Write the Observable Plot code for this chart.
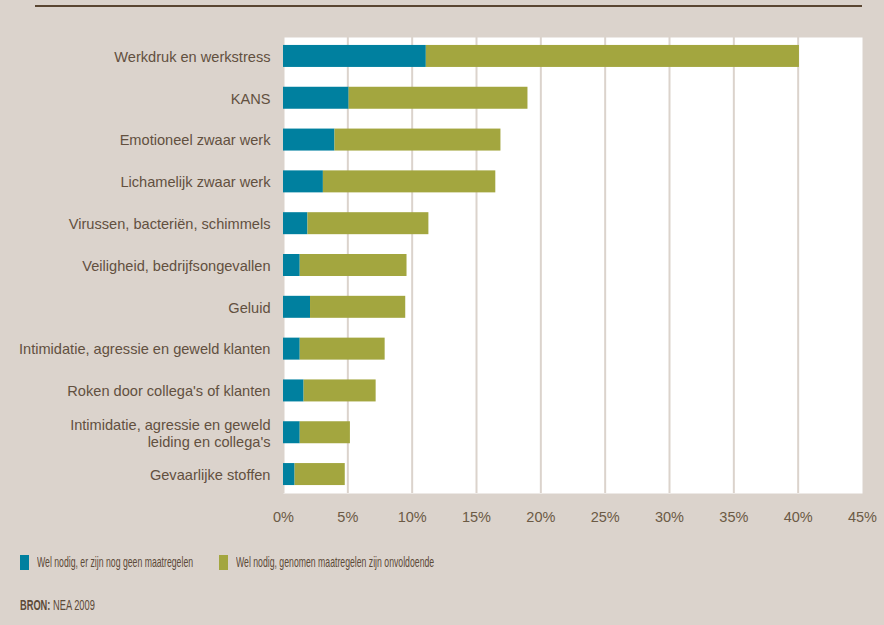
<!DOCTYPE html>
<html>
<head>
<meta charset="utf-8">
<script src="https://cdn.jsdelivr.net/npm/d3@7"></script>
<script src="https://cdn.jsdelivr.net/npm/@observablehq/plot@0.6"></script>
<style>
  html, body { margin: 0; padding: 0; background: #dbd3cc; }
  #wrap { position: relative; width: 884px; height: 625px; background: #dbd3cc; overflow: hidden;
          font-family: "Liberation Sans", Arial, sans-serif; color: #5c4a38; }
  #rule { position: absolute; left: 35px; top: 5px; width: 827px; height: 2px; background: #5a4632; }
  #chart { position: absolute; left: 0; top: 0; }
  #legend { position: absolute; left: 20px; top: 555px; font-size: 14.5px; color: #5c4a38; }
  .item { position: absolute; white-space: nowrap; top: 0; }
  .sw { position: absolute; top: 0; width: 9px; height: 15px; }
  .lab { position: absolute; top: -1px; left: 17px; line-height: 17px; display: inline-block;
         transform: scaleX(0.6); transform-origin: 0 50%; }
  #source { position: absolute; left: 20px; top: 597px; font-size: 14.5px; color: #5c4a38; white-space: nowrap;
            transform: scaleX(0.64); transform-origin: 0 50%; }
</style>
</head>
<body>
<div id="wrap">
  <div id="rule"></div>
  <div id="chart"></div>
  <div id="legend"></div>
  <div id="source"><b>BRON:</b> NEA 2009</div>
</div>
<script>
const categories = [
  "Werkdruk en werkstress",
  "KANS",
  "Emotioneel zwaar werk",
  "Lichamelijk zwaar werk",
  "Virussen, bacteriën, schimmels",
  "Veiligheid, bedrijfsongevallen",
  "Geluid",
  "Intimidatie, agressie en geweld klanten",
  "Roken door collega's of klanten",
  "Intimidatie, agressie en geweld\nleiding en collega's",
  "Gevaarlijke stoffen"
];
const seriesNames = [
  "Wel nodig, er zijn nog geen maatregelen",
  "Wel nodig, genomen maatregelen zijn onvoldoende"
];
const geenMaatregelen = [11.1, 5.1, 4.0, 3.1, 1.9, 1.3, 2.1, 1.3, 1.6, 1.3, 0.9];
const onvoldoende =     [29.0, 13.9, 12.9, 13.4, 9.4, 8.3, 7.4, 6.6, 5.6, 3.9, 3.9];
const xTicks = [0, 5, 10, 15, 20, 25, 30, 35, 40, 45];
const colors = ["#00809f", "#a3a63f"];

const data = [];
categories.forEach((c, i) => {
  data.push({category: c, series: seriesNames[0], value: geenMaatregelen[i]});
  data.push({category: c, series: seriesNames[1], value: onvoldoende[i]});
});

const chart = Plot.plot({
  width: 884,
  height: 540,
  marginLeft: 283,
  marginRight: 22,
  marginTop: 37,
  marginBottom: 47,
  style: { background: "transparent", fontFamily: "'Liberation Sans', Arial, sans-serif", fontSize: "14px", color: "#5c4a38" },
  x: { domain: [0, 45], ticks: xTicks, tickFormat: d => d + "%", label: null },
  y: { domain: categories, paddingInner: 0.474, paddingOuter: 0.19, round: false, label: null },
  color: { domain: seriesNames, range: colors },
  marks: [
    Plot.frame({ fill: "white", stroke: null }),
    Plot.ruleX(xTicks.slice(0, -1), { stroke: "#dbd3cc", strokeWidth: 2 }),
    Plot.barX(data, { y: "category", x: "value", fill: "series", order: seriesNames }),
    Plot.axisX({ ticks: xTicks, tickFormat: d => d + "%", tickSize: 0, tickPadding: 18, fontSize: 14.5, fill: "#6b5a45" }),
    Plot.axisY({ tickSize: 0, tickPadding: 13, fontSize: 14.6, fill: "#62503f", lineHeight: 1.15 })
  ]
});
document.getElementById("chart").appendChild(chart);

const legend = document.getElementById("legend");
const offsets = [0, 199];
seriesNames.forEach((s, i) => {
  const it = document.createElement("div");
  it.className = "item";
  it.style.left = offsets[i] + "px";
  const sw = document.createElement("div");
  sw.className = "sw";
  sw.style.background = colors[i];
  const lab = document.createElement("div");
  lab.className = "lab";
  lab.textContent = s;
  it.appendChild(sw);
  it.appendChild(lab);
  legend.appendChild(it);
});
</script>
</body>
</html>
